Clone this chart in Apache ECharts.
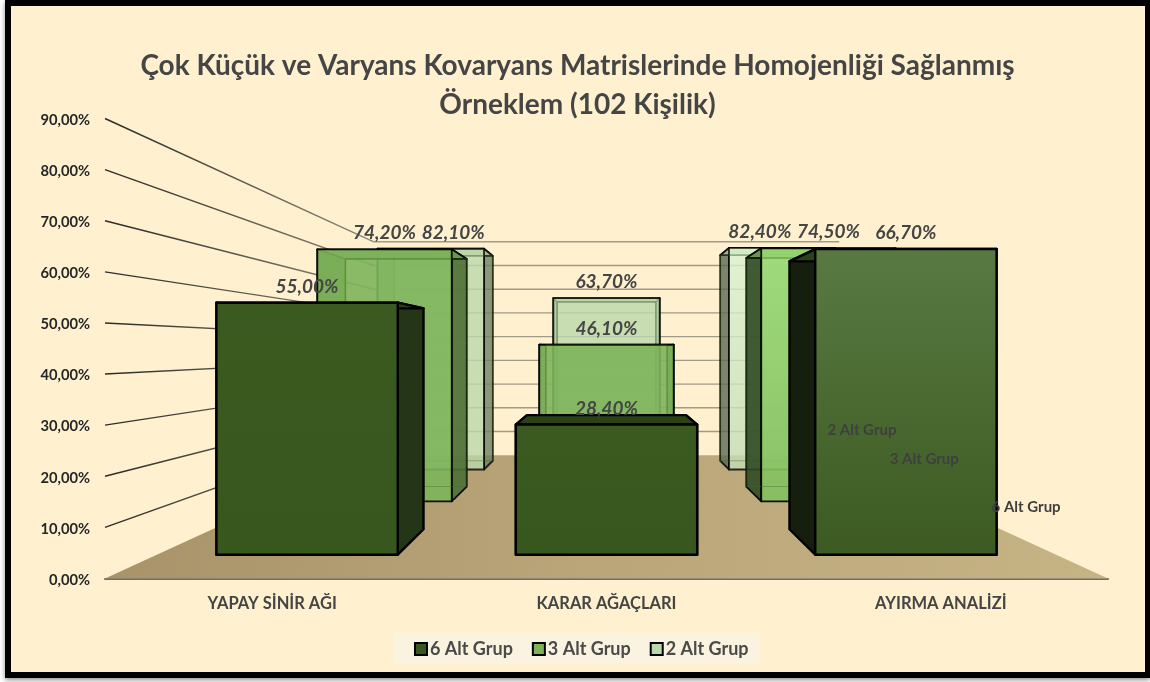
<!DOCTYPE html>
<html><head><meta charset="utf-8">
<style>html,body{margin:0;padding:0;background:#fff}#c{width:1150px;height:682px}</style>
<script src="https://cdn.jsdelivr.net/npm/echarts@6/dist/echarts.min.js"></script>
</head><body><div id="c"></div>
<script>
const categories = ['YAPAY SİNİR AĞI', 'KARAR AĞAÇLARI', 'AYIRMA ANALİZİ'];
const alt6 = [55.0, 28.4, 66.7];
const alt3 = [74.2, 46.1, 74.5];
const alt2 = [82.1, 63.7, 82.4];
const yTicks = [0, 10, 20, 30, 40, 50, 60, 70, 80, 90];
const seriesNames = ['6 Alt Grup', '3 Alt Grup', '2 Alt Grup'];

const FONT = 'Lato, "Open Sans", sans-serif';
const K = 1.155;
function projector(params, api) {
  const cs = params.coordSys;
  const vx = cs.x + cs.width / 2;
  const vy = api.coord([0, 45])[1];
  return function (X, Y, z) {
    const s = 1 / (1 + K * z);
    return [vx + s * (X - vx), vy + s * (Y - vy)];
  };
}
const pct = v => v.toFixed(2).replace('.', ',') + '%';

function renderWall(params, api) {
  const cs = params.coordSys;
  const p = projector(params, api);
  const v = api.value(0);
  const y = api.coord([0, v])[1];
  const L = cs.x, R = cs.x + cs.width;
  const a = [L, y], b = p(L, y, 1), c = p(R, y, 1);
  const children = [];
  if (v === 0) {
    children.push({
      type: 'polygon', shape: { points: [[L, y], [R, y], p(R, y, 1), p(L, y, 1)] },
      style: { fill: new echarts.graphic.LinearGradient(0, 0, 1, 0.3, [
        { offset: 0, color: '#a8936a' }, { offset: 0.5, color: '#baa679' }, { offset: 1, color: '#c7b485' }]) },
      z2: 0
    });
  } else {
    children.push({
      type: 'line', shape: { x1: a[0], y1: a[1], x2: b[0], y2: b[1] },
      style: { lineWidth: 1.4, stroke: new echarts.graphic.LinearGradient(0, 0, 1, 0, [
        { offset: 0, color: '#2a2a26' }, { offset: 1, color: '#8f8a78' }]) }, z2: 1
    });
    children.push({
      type: 'line', shape: { x1: b[0], y1: b[1], x2: c[0], y2: c[1] },
      style: { lineWidth: 1.4, stroke: '#a09a86' }, z2: 1
    });
  }
  return { type: 'group', children };
}

const ROWS = {
  '6 Alt Grup': { base: 30, z0: 0.1, z1: 0.236, labelZ: 0.1, op: 1, level: 10.7, off: -5,
    front: ['#3a5a20', '#38571f'], frontHi: ['#587a42', '#3c5a22'],
    side: '#243617', sideHi: '#161f0e', top: '#2b4219' },
  '3 Alt Grup': { base: 20, z0: 0.437, z1: 0.577, labelZ: 0.437, op: 0.9, level: 12.7, off: -6,
    front: ['#7db45a', '#7db45a'], frontHi: ['#98d873', '#82bf5e'],
    side: '#4c7034', sideHi: '#2f4a24', top: '#6b9c4d' },
  '2 Alt Grup': { base: 10, z0: 0.78, z1: 0.908, labelZ: 1.02, op: 0.8, level: 15, off: -8,
    front: ['#bcd8ab', '#bcd8ab'], frontHi: ['#dbf3d2', '#c3dcb4'],
    side: '#6f8163', sideHi: '#596a50', top: '#a9c498' }
};

function makeRender(name) {
  const row = ROWS[name];
  return function (params, api) {
    const p = projector(params, api);
    const cs = params.coordSys;
    const vx = cs.x + cs.width / 2;
    const i = api.value(0), v = api.value(1);
    const c = api.coord([i, 0]);
    const cx = vx + (c[0] - vx) * 0.999;
    const w = api.size([1, 0])[0] * 0.605;
    const yT = api.coord([i, v])[1], yB = c[1];
    const xL = cx - w / 2, xR = cx + w / 2;
    const F = [p(xL, yT, row.z0), p(xR, yT, row.z0), p(xR, yB, row.z0), p(xL, yB, row.z0)];
    const B = [p(xL, yT, row.z1), p(xR, yT, row.z1), p(xR, yB, row.z1), p(xL, yB, row.z1)];
    const hi = i === 2;
    const lw = row.op === 1 ? 2.4 : 1.8;
    const face = (pts, fill, z2, extra) => ({
      type: 'polygon', shape: { points: pts },
      style: Object.assign({ fill, stroke: '#000', lineWidth: lw, lineJoin: 'round', opacity: row.op }, extra || {}),
      z2: row.base + z2
    });
    const grad = hi ? row.frontHi : row.front;
    const frontFill = new echarts.graphic.LinearGradient(0, 0, 0, 1, [
      { offset: 0, color: grad[0] }, { offset: 1, color: grad[1] }]);
    const sideFill = hi ? row.sideHi : row.side;
    const children = [];
    children.push(face([F[0], B[0], B[3], F[3]], sideFill, 1));
    children.push(face([F[1], B[1], B[2], F[2]], sideFill, 1));
    children.push(face([F[0], F[1], B[1], B[0]], row.top, 1));
    children.push(face(F, frontFill, 3));
    if (row.op < 1) {
      children.push(face(B, 'rgba(0,0,0,0)', 5, { stroke: '#3f6a2a', lineWidth: 1.2, opacity: 0.4 }));
    }
    const cc = p(cx, yT, row.labelZ);
    const topFront = F[0][1];
    children.push({
      type: 'text', z2: 100, silent: true,
      style: { x: cc[0], y: topFront - 16, text: pct(v), align: 'center', verticalAlign: 'middle',
        font: 'italic bold 19px ' + FONT, fill: '#454545' }
    });
    if (i === categories.length - 1) {
      const lev = api.coord([i, row.level])[1];
      const nm = p(xR, lev, row.z0);
      children.push({
        type: 'text', z2: 100, silent: true,
        style: { x: nm[0] + row.off, y: nm[1] + 1, text: name, align: 'left', verticalAlign: 'middle',
          font: 'bold 15px ' + FONT, fill: '#3f3f3f' }
      });
    }
    return { type: 'group', children };
  };
}
function barSeries(name, values, color) {
  return {
    name, type: 'custom', coordinateSystem: 'cartesian2d',
    data: values.map((v, i) => [i, v]),
    encode: { x: 0, y: 1 }, renderItem: makeRender(name), clip: false,
    itemStyle: { color, borderColor: '#000', borderWidth: 2 }
  };
}

const chart = echarts.init(document.getElementById('c'), null, { renderer: 'canvas' });
chart.setOption({
  animation: false,
  backgroundColor: '#ffffff',
  graphic: [
    { type: 'rect', z: -11, shape: { x: 5, y: 0, width: 1145, height: 678 },
      style: { fill: '#000', shadowBlur: 5, shadowColor: 'rgba(0,0,0,0.45)', shadowOffsetY: 2 } },
    { type: 'rect', z: -10, shape: { x: 11, y: 6, width: 1134, height: 666 },
      style: { fill: '#fff1cf' } }
  ],
  title: {
    text: 'Çok Küçük ve Varyans Kovaryans Matrislerinde Homojenliği Sağlanmış\nÖrneklem (102 Kişilik)',
    left: 572.5, top: 42, textAlign: 'center',
    textStyle: { fontFamily: FONT, fontWeight: 'bold', fontSize: 28, color: '#454545', lineHeight: 38.5 }
  },
  legend: {
    data: seriesNames, left: 394, top: 633, padding: [7, 11, 6, 20], itemGap: 19,
    icon: 'rect', itemWidth: 12, itemHeight: 12, backgroundColor: '#faf3df',
    itemStyle: { borderColor: '#000', borderWidth: 2 },
    textStyle: { fontFamily: FONT, fontWeight: 'bold', fontSize: 18, color: '#4a4a4a', padding: [0, 0, 0, -2] }
  },
  grid: { left: 105, right: 42, top: 118.5, bottom: 103.5 },
  xAxis: {
    type: 'category', data: categories,
    axisTick: { show: false },
    axisLine: { show: true, lineStyle: { color: '#6e6e6e', width: 2 } },
    axisLabel: { margin: 17, fontFamily: FONT, fontWeight: 'bold', fontSize: 16.5, color: '#454545' }
  },
  yAxis: {
    type: 'value', min: 0, max: 90, interval: 10,
    axisLine: { show: false }, axisTick: { show: false }, splitLine: { show: false },
    axisLabel: { margin: 15, verticalAlign: 'top', lineHeight: 3, fontFamily: FONT, fontWeight: 'bold', fontSize: 14.7, color: '#262626',
      formatter: v => pct(yTicks[yTicks.indexOf(v)]) }
  },
  series: [
    { name: 'wall', type: 'custom', coordinateSystem: 'cartesian2d', silent: true, clip: false,
      z: 1, data: yTicks.map(v => [v]), encode: { y: 0 }, renderItem: renderWall },
    barSeries('2 Alt Grup', alt2, '#bcd8ab'),
    barSeries('3 Alt Grup', alt3, '#7db45a'),
    barSeries('6 Alt Grup', alt6, '#38571f')
  ]
});
</script></body></html>
